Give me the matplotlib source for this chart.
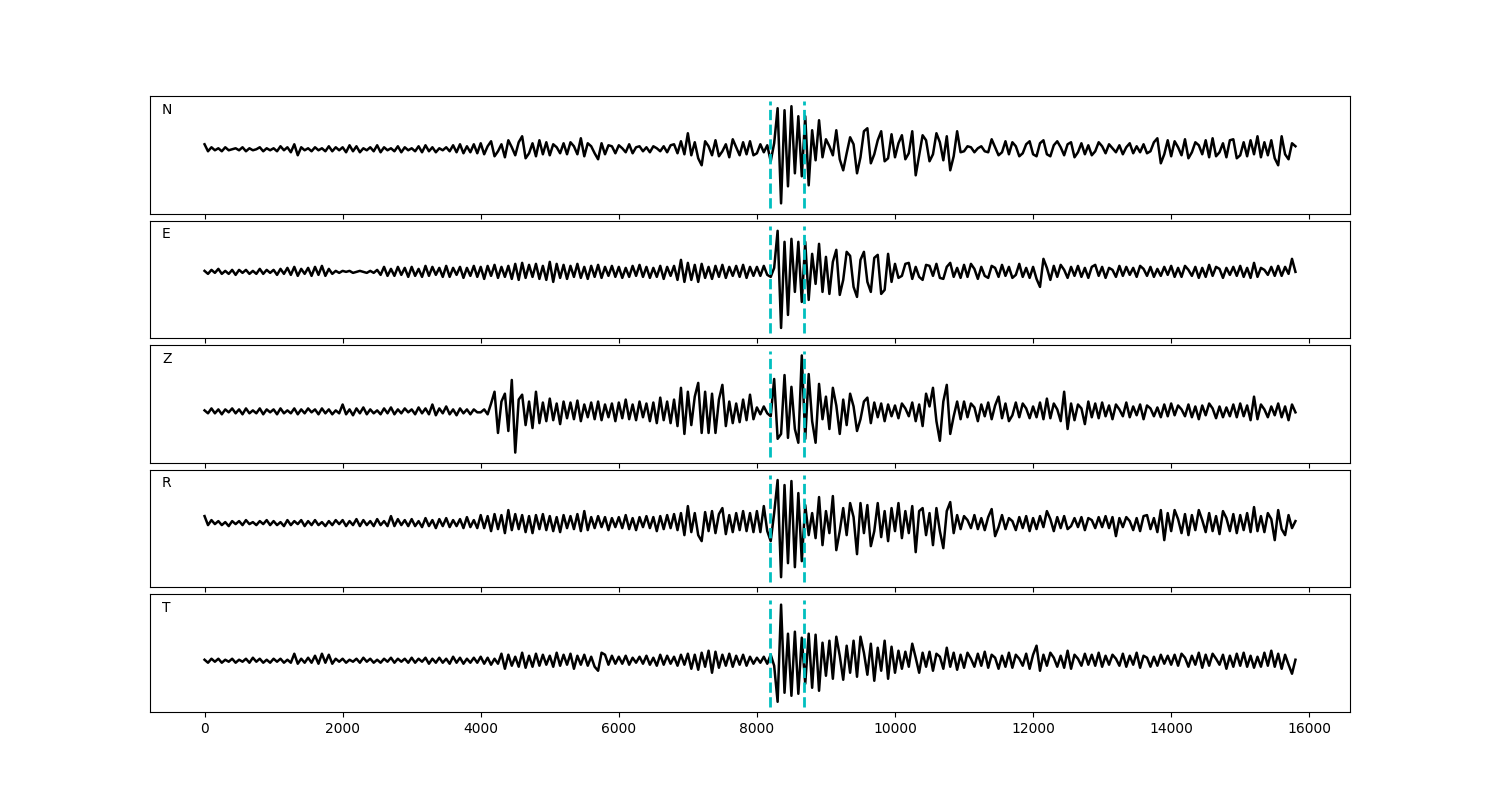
import matplotlib
matplotlib.use("Agg")
import matplotlib.pyplot as plt
import numpy as np

# sample step between the listed values
DT = 50
PICKS = [8185, 8675]
COMPONENTS = ["N", "E", "Z", "R", "T"]

trace_n = [
    5, -2, 2, -1, 1, -2, 2, -1, 0, 1, -1, 2, -2, 1, -1, 0, 2, -2, 1, -1,
    1, -2, 3, -1, 2, -3, 5, -6, 2, -1, 1, -2, 2, -1, 1, -2, 3, -2, 2, -1,
    2, -3, 4, -2, 3, -3, 1, -1, 2, -2, 4, -3, 2, -1, 1, -2, 3, -3, 2, -1,
    1, -2, 3, -3, 4, -2, 2, -3, 1, -1, 2, -2, 4, -3, 5, -4, 3, -3, 5, -4,
    6, -5, 3, 8, -7, -2, 5, -8, 9, 2, -6, 7, 13, -9, -4, 6, -7, 9, -5, 7,
    -6, 5, 2, -4, 6, -5, 7, 3, -5, 11, -7, 6, 3, -4, -10, 6, -5, 4, 3, -4,
    4, 1, -3, 5, -4, 2, 3, -2, 2, -3, 3, 1, -2, 3, -3, 4, 5, -4, 8, -5,
    16, -6, 7, -9, -16, 8, 3, -6, 9, -7, -2, 5, -8, 10, 2, -6, 7, -5, 8, -6,
    -4, 5, -3, 4, -12, 6, 41, -54, 39, -37, 43, -24, 33, -27, 33, -36, 19, -11, 29, -8,
    10, 3, -6, 19, -10, -21, -4, 12, 5, -24, -8, 18, 21, -14, -5, 9, 18, -12, -9, 15,
    -8, 6, 14, -10, -4, 18, -26, -6, 14, 9, -12, -5, 16, 7, -11, 13, -21, -7, 18, -3,
    -2, 3, 2, -3, 1, 3, -2, -3, 10, 2, -6, -3, 8, -5, 7, 3, -7, -4, 5, 8,
    -5, -7, 6, 9, -5, -7, 4, 8, 2, -6, 5, 7, -8, -3, 6, -5, 4, -6, -2, 7,
    3, -4, 5, 1, -3, 4, -5, 2, 6, -4, 3, -3, 5, -4, -2, 7, 11, -14, -5, 9,
    -7, 8, 2, -6, 10, -9, -3, 7, 4, -5, 9, -8, 11, -7, -3, 6, -8, 9, 10, -9,
    -6, 7, -7, 9, -5, 13, -8, 7, -6, 9, -9, -16, 13, -5, -10, 6, 3,
]

trace_e = [
    1, -2, 2, -1, 3, -2, 1, -2, 2, -3, 2, -1, 2, -2, 1, -2, 3, -2, 2, -1,
    2, -3, 3, -2, 4, -3, 5, -4, 3, -2, 4, -4, 5, -3, 6, -4, 3, -2, 1, -1,
    1, 0, 1, -1, 0, 1, 0, -1, 1, -1, 2, -3, 5, -4, 3, -4, 5, -3, 4, -5,
    5, -4, 3, -5, 6, -4, 5, -3, 4, -5, 6, -5, 4, -3, 5, -6, 4, -4, 6, -5,
    5, -7, 6, -4, 7, -6, 5, -5, 6, -7, 8, -8, 9, -6, 7, -5, 8, -7, 6, -8,
    10, -10, 8, -6, 7, -7, 6, -5, 8, -6, 5, -7, 6, -5, 7, -6, 5, -4, 6, -5,
    5, -6, 4, -5, 6, -4, 7, -5, 5, -6, 4, -5, 6, -7, 5, -4, 6, -8, 12, -10,
    9, -8, 7, -10, 8, -6, 5, -7, 6, -5, 7, -6, 5, -4, 6, -5, 7, -6, 5, -4,
    5, -4, 6, -3, -5, 4, 41, -56, 30, -43, 33, -20, 30, -30, 30, -28, 18, -12, 28, -20,
    15, -22, 10, 22, -23, -8, 20, 16, -15, -25, 12, 20, -10, -20, 14, 17, -22, -18, 18, -10,
    8, -6, -4, 8, 9, -7, 5, -5, -8, 7, 6, -4, 8, -6, -7, 5, 9, -5, 4, -6,
    7, -5, 8, 3, -7, 5, -4, -6, 6, 4, -5, 7, -4, 5, -6, -3, 8, -5, 4, -6,
    5, -7, -15, 13, 4, -8, 6, -5, 7, 2, -6, 5, -4, 6, -5, 4, -6, 5, 7, -4,
    5, -6, 4, 2, -5, 6, -4, 5, -3, 4, -5, 6, 3, -4, 5, -5, 3, -4, 5, -3,
    6, -5, 4, -5, 6, 2, -4, 5, -6, 4, -5, 7, -4, 5, 3, -6, 4, -3, 5, -4,
    6, -5, 4, -6, 9, -5, 4, 2, -3, 5, -4, 6, -4, 5, -2, 13, 0,
]

trace_z = [
    1, -2, 3, -2, 2, -3, 2, -1, 3, -2, 2, -3, 3, -2, 1, -2, 3, -3, 2, -1,
    2, -3, 3, -2, 1, -2, 3, -3, 2, -2, 3, -1, 2, -3, 3, -2, 2, -3, 1, -2,
    7, -3, 2, -4, 3, -2, 4, -3, 2, -2, 1, -3, 3, -2, 4, -3, 2, -2, 3, -1,
    2, -3, 4, -2, 3, -3, 7, -4, 3, -2, 5, -3, 2, -4, 3, -2, 2, -3, 2, -1,
    -1, 2, -3, 8, 20, -22, 10, 18, -20, 32, -42, 12, 17, -14, 10, -17, 20, -12, 9, -10,
    13, -9, 8, -13, 10, -7, 9, -8, 11, -10, 7, -6, 9, -8, 10, -9, 7, -6, 8, -10,
    9, -7, 12, -8, 7, -9, 10, -6, 8, -10, 9, -12, 14, -9, 10, -12, 12, -15, 24, -23,
    20, -14, 15, 29, -22, 20, -22, 18, -22, 12, 27, -15, 10, -12, 8, -11, 12, -9, 17, -8,
    4, -3, 5, -2, -5, 33, -28, -23, 37, -27, 25, -18, -32, 57, -28, 38, -10, -32, 28, -8,
    15, -18, 24, 6, -23, 12, -14, 18, 5, -20, -8, 10, 14, -12, 9, -6, 8, -10, 7, -5,
    6, -7, 8, 3, -5, 9, -10, 7, -15, 18, 5, 24, -10, -30, 10, 27, -23, -5, 10, -8,
    10, -6, 8, 4, -10, 7, -5, 9, -8, 6, 15, -7, 8, -10, -4, 9, -6, 8, 3, -7,
    5, -6, 9, -8, 13, -7, 8, 2, -10, 20, -18, 8, -9, 7, 3, -13, 10, -6, 8, -7,
    9, -5, 6, -8, 7, 2, -5, 9, -6, 5, -4, 7, -8, 6, 3, -5, 4, -6, 7, -5,
    8, -4, 6, 2, -5, 7, -6, 5, -8, 6, -4, 8, 3, -7, 5, -6, 4, -5, 7, -6,
    8, -5, 6, -9, 15, -8, 7, 2, -6, 5, -4, 8, -6, 5, -9, 7, -1,
]

trace_r = [
    7, -2, 3, -1, 2, -2, 1, -3, 2, -1, 2, -2, 3, -1, 1, -2, 2, -1, 3, -2,
    2, -2, 1, -3, 3, -2, 2, -1, 3, -3, 2, -2, 3, -2, 1, -3, 2, -2, 3, -1,
    3, -3, 2, -2, 4, -3, 3, -2, 2, -3, 4, -2, 2, -3, 7, -3, 4, -2, 3, -3,
    4, -3, 2, -4, 5, -3, 3, -5, 4, -3, 5, -4, 3, -3, 4, -5, 6, -4, 3, -5,
    8, -5, 7, -8, 9, -6, 8, -10, 13, -7, 9, -6, 8, -9, 7, -10, 8, -6, 9, -7,
    7, -8, 6, -9, 8, -5, 7, -6, 9, -8, 12, -7, 6, -5, 7, -4, 6, -7, 5, -4,
    6, -5, 8, -6, 5, -7, 6, -4, 7, -5, 6, -8, 7, -6, 8, -5, 9, -7, 10, -12,
    17, -9, 10, -12, -18, 11, -8, 12, -10, 9, 15, -11, 8, -9, 10, -7, 12, -8, 10, -9,
    12, -9, 17, -8, -18, 10, 43, -54, 38, -40, 42, -44, 30, -38, 18, -12, 10, -15, 26, -22,
    12, -10, 27, -27, -8, 15, -12, 20, 6, -31, 20, -10, 18, -23, -8, 20, -14, 12, -18, 15,
    -8, 20, -15, 12, -10, 17, -29, 12, 15, -12, 10, -22, 15, -8, -25, 12, 21, -10, 8, -6,
    7, 3, -5, 8, -6, 5, -7, 6, 14, -13, -4, 8, -6, 5, 2, -7, 6, -5, 7, -8,
    5, -6, 7, -4, 12, 4, -8, 6, -5, 7, -6, -3, 5, -4, 6, -7, 5, 3, -5, 6,
    -4, 7, -5, 6, -13, 5, -4, 6, 2, -7, 5, -8, 7, 8, -6, 5, -9, 13, -17, 10,
    -8, 13, 4, -10, 9, -12, 8, -7, 13, 3, -9, 10, -8, 7, -11, 12, 5, -8, 9, -10,
    8, -7, 10, -9, 16, -8, 7, -9, 10, 4, -17, 13, -6, -12, 8, -5, 2,
]

trace_t = [
    1, -2, 2, -1, 2, -2, 1, -1, 2, -2, 1, -1, 2, -2, 3, -1, 2, -2, 1, -2,
    2, -1, 2, -2, 1, -2, 7, -3, 2, -2, 3, -2, 5, -3, 7, -2, 6, -3, 2, -1,
    2, -2, 1, -1, 2, -2, 3, -1, 2, -2, 1, -2, 2, -1, 3, -2, 2, -1, 2, -2,
    3, -2, 2, -1, 3, -3, 2, -2, 3, -2, 2, -3, 4, -2, 3, -3, 2, -2, 3, -2,
    4, -3, 3, -4, 2, -3, 7, -8, 6, -5, 4, -6, 8, -7, 5, -6, 7, -5, 6, -4,
    5, -6, 8, -5, 6, -4, 7, -8, 5, -4, 6, -5, 4, -6, -10, 8, 6, -4, 5, -3,
    4, -3, 5, -4, 3, -2, 4, -3, 5, -4, 3, -5, 6, -4, 5, -3, 4, -5, 6, -4,
    7, -8, 6, -9, 8, -6, 10, -12, 9, -7, 6, -5, 7, -6, 5, -4, 6, -5, 4, -3,
    3, -2, 4, -3, 6, -5, -41, 56, -32, 27, -35, 29, -33, 23, -23, 27, -27, 26, -30, 18,
    -15, 20, -18, 24, 5, -19, 15, -12, 20, -16, 24, 8, -14, 17, -20, 13, -10, 20, -18, 14,
    -12, 10, -8, 9, -6, 17, 3, -12, 8, -6, 9, -10, 7, 4, -8, 13, -6, 8, -9, 6,
    -7, 8, 2, -6, 7, -5, 9, -7, 6, 3, -8, 5, -6, 8, -7, 6, 2, -5, 7, -8,
    6, 15, -10, 6, -5, 8, 3, -6, 5, -7, 10, -8, 6, 2, -5, 7, -4, 6, -5, 8,
    -6, 5, -4, 6, 2, -5, 7, -6, 5, -4, 8, -7, 5, 3, -6, 4, -5, 6, -3, 5,
    -4, 6, -5, 7, 3, -6, 5, -4, 8, -7, 6, -5, 7, 2, -4, 6, -8, 5, -6, 7,
    -5, 8, -6, 5, -7, 4, -6, 8, -5, 10, -6, 7, -8, 6, -4, -13, 1,
]

traces = [trace_n, trace_e, trace_z, trace_r, trace_t]

fig, axes = plt.subplots(5, 1, figsize=(15, 8), dpi=100, sharex=True)
fig.subplots_adjust(left=0.1, right=0.9, hspace=0.06)

for ax, name, tr in zip(axes, COMPONENTS, traces):
    tr = np.asarray(tr, dtype=float)
    t = np.arange(len(tr)) * DT
    ax.plot(t, tr, color="k", linewidth=1.8)
    ymin, ymax = ax.get_ylim()
    ax.vlines(PICKS, ymin, ymax, colors="c", linestyles="--", linewidth=2)
    ax.set_yticks([])
    ax.text(0.01, 0.85, name, transform=ax.transAxes)

fig.savefig("out.png")
